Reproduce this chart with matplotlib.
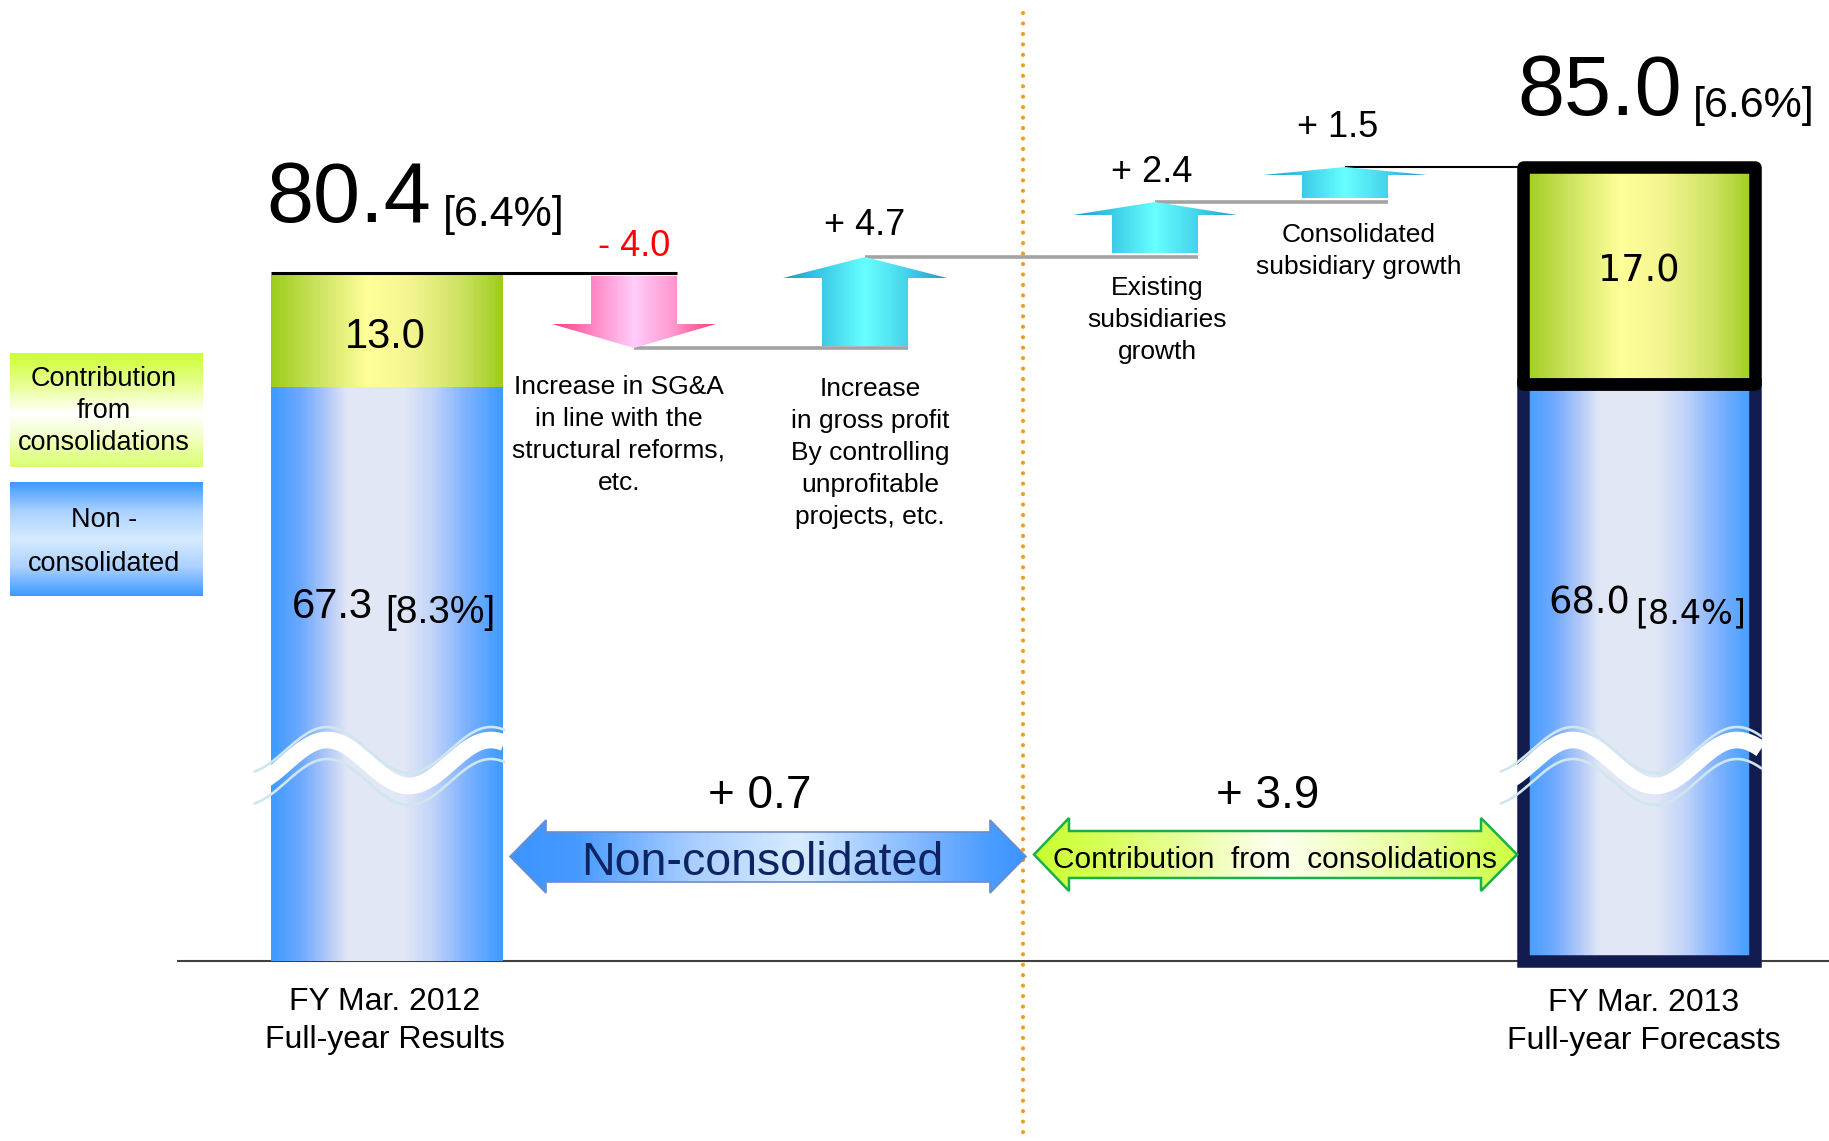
import numpy as np
import matplotlib
matplotlib.use("Agg")
import matplotlib.pyplot as plt
from matplotlib.colors import LinearSegmentedColormap
from matplotlib.patches import Polygon, Rectangle

# Operating income bridge (billions of yen)
periods = ["FY Mar. 2012\nFull-year Results", "FY Mar. 2013\nFull-year Forecasts"]
non_consolidated = [67.3, 68.0]
consolidation_contrib = [13.0, 17.0]
operating_income = [80.4, 85.0]
income_margin = ["6.4%", "6.6%"]
non_consolidated_margin = ["8.3%", "8.4%"]

step_changes = [-4.0, 4.7, 2.4, 1.5]
step_notes = [
    "Increase in SG&A\nin line with the\nstructural reforms,\netc.",
    "Increase\nin gross profit\nBy controlling\nunprofitable\nprojects, etc.",
    "Existing\nsubsidiaries\ngrowth",
    "Consolidated\nsubsidiary growth",
]
segment_names = ["Non-consolidated", "Contribution  from  consolidations"]
segment_changes = [0.7, 3.9]
legend_names = ["Contribution\nfrom\nconsolidations", "Non -\nconsolidated"]

W, H = 1829, 1141
FONT = "Liberation Sans"
WIDE_FONT = "DejaVu Sans"

# broken value axis: 0-67 is squeezed so the small steps near the top stay readable
VAL_KNOTS = [-40, 0, 67, 76, 80.4, 90, 100]
PX_KNOTS = [1303, 961, 388, 356, 273, 52, -178]  # pixels from the top edge
UP_KNOTS = [H - p for p in PX_KNOTS]


def forward(v):
    return np.interp(np.asarray(v, dtype=float), VAL_KNOTS, UP_KNOTS)


def inverse(u):
    return np.interp(np.asarray(u, dtype=float), UP_KNOTS, VAL_KNOTS)


BAR_X = [387, 1639]
BAR_W = 232
STEP_X = [634, 865, 1155, 1345]
SHAFT_W, HEAD_W = 86, 164
HEAD_FRAC = [0.33, 0.21, 0.24, 0.23]
STEP_LABEL_POS = [(634, 256), (865, 235), (1152, 182), (1338, 137)]
NOTE_POS = [(619, 435), (870, 453), (1157, 320), (1359, 251)]


def fy(s):
    return 1 - np.asarray(s, dtype=float) / H


def cmap(name, stops):
    return LinearSegmentedColormap.from_list(name, stops)


blue_cm = cmap("bar_blue", [(0, "#3d9bff"), (0.13, "#6ea9ff"), (0.25, "#b6cbf7"),
                            (0.33, "#e2e7f5"), (0.57, "#e2e7f5"), (0.70, "#c0d3f8"),
                            (0.84, "#80b2ff"), (1, "#3d9bff")])
green_cm = cmap("bar_green", [(0, "#9dcc1d"), (0.2, "#cce35f"), (0.42, "#ffff99"),
                              (0.6, "#f4f590"), (0.82, "#cde262"), (1, "#9dcc1d")])
pink_cm = cmap("down", [(0, "#ff3a7a"), (0.26, "#ff8ac6"), (0.5, "#ffccfa"),
                        (0.74, "#ff98cf"), (1, "#ff3a7a")])
cyan_cm = cmap("up", [(0, "#1b98cc"), (0.24, "#3ccbe6"), (0.5, "#66ffff"),
                      (0.76, "#44d2ea"), (1, "#1b98cc")])
nc_arrow_cm = cmap("nc_arrow", [(0, "#3d94ff"), (0.12, "#4598ff"), (0.35, "#a8cdff"),
                                (0.56, "#d8ebff"), (0.8, "#80b6ff"), (0.93, "#4a9cff"),
                                (1, "#3d94ff")])
cc_arrow_cm = cmap("cc_arrow", [(0, "#c8ff2e"), (0.15, "#d8ff5a"), (0.5, "#fdfff0"),
                                (0.8, "#e6ff99"), (1, "#ccff40")])
legend_cms = [
    cmap("leg_cc", [(0, "#ccff33"), (0.3, "#e8ff99"), (0.53, "#ffffff"),
                    (0.75, "#f0ffc0"), (1, "#d8ff70")]),
    cmap("leg_nc", [(0, "#3d99ff"), (0.25, "#a9d0ff"), (0.5, "#d6eaff"),
                    (0.75, "#a9d0ff"), (1, "#3d99ff")]),
]

fig = plt.figure(figsize=(W / 100, H / 100), dpi=100)
ax = fig.add_axes([0, 0, 1, 1])
ax.set_xlim(0, W)
ax.set_yscale("function", functions=(forward, inverse))
ax.set_ylim(inverse(0), inverse(H))
ax.axis("off")
trans = ax.get_xaxis_transform()


def gradient(clip, x0, x1, y0, y1, cm, vertical=False, transform=None, z=2):
    n = 200
    t = np.linspace(0, 1, n)
    if vertical:
        xs, ys, c = [x0, x1], np.linspace(y0, y1, n + 1), t[:, None]
    else:
        xs, ys, c = np.linspace(x0, x1, n + 1), [y0, y1], t[None, :]
    mesh = ax.pcolormesh(xs, ys, c, cmap=cm, shading="flat", edgecolors="none",
                         antialiased=False, zorder=z,
                         transform=transform if transform is not None else ax.transData)
    mesh.set_clip_path(clip)
    return mesh


def txt(x, s, string, size, family=FONT, **kw):
    kw.setdefault("ha", "center")
    kw.setdefault("va", "baseline")
    return ax.text(x, fy(s), string, transform=trans, fontsize=size, family=family, **kw)


# baseline and the dotted divider between the two halves
ax.hlines(0, 177, W, color="#404040", lw=1.5, zorder=1)
ax.plot([1023, 1023], [fy(13), 0], transform=trans, color="#f79a1d", lw=3,
        linestyle=(0, (0.01, 2.5)), dash_capstyle="round", zorder=1)

# stacked bars
bars_nc = ax.bar(BAR_X, non_consolidated, width=BAR_W, facecolor="none",
                 edgecolor="none", zorder=3)
bars_cc = ax.bar(BAR_X, consolidation_contrib, bottom=non_consolidated, width=BAR_W,
                 facecolor="none", edgecolor="none", zorder=3.1)
for bars, cm in ((bars_nc, blue_cm), (bars_cc, green_cm)):
    for rect in bars:
        x0, y0 = rect.get_x(), rect.get_y()
        gradient(rect, x0, x0 + rect.get_width(), y0, y0 + rect.get_height(), cm)

bars_nc[1].set_edgecolor("#121b4e")
bars_nc[1].set_linewidth(9)
bars_cc[1].set_edgecolor("black")
bars_cc[1].set_linewidth(9)
bars_cc[1].set_joinstyle("round")


# wavy break marks across the bars
def break_mark(left, right):
    xs = np.linspace(left - 16, right, 200)
    s = 750 - 23 * np.cos(2 * np.pi * (xs - (left + 56)) / 164)
    ax.plot(xs, fy(s + 13), transform=trans, color="white", lw=12,
            solid_capstyle="butt", zorder=6)
    ax.plot(xs, fy(s), transform=trans, color="#cfe6ee", lw=1.9, zorder=6.1)
    ax.plot(xs, fy(s + 32), transform=trans, color="#cfe6ee", lw=1.9, zorder=6.1)


break_mark(BAR_X[0] - BAR_W / 2, BAR_X[0] + BAR_W / 2 + 1)
break_mark(BAR_X[1] - BAR_W / 2 - 6, BAR_X[1] + BAR_W / 2 + 6)

# waterfall steps
levels = [operating_income[0]]
for d in step_changes:
    levels.append(round(levels[-1] + d, 1))

ax.hlines(levels[0], BAR_X[0] - BAR_W / 2, STEP_X[0] + SHAFT_W / 2, color="black",
          lw=2.2, zorder=4)
for i in range(1, len(step_changes)):
    ax.hlines(levels[i], STEP_X[i - 1], STEP_X[i] + SHAFT_W / 2, color="#a3a3a3",
              lw=2.6, zorder=1.5)
ax.hlines(levels[-1], STEP_X[-1], BAR_X[1] - BAR_W / 2, color="black", lw=1.5, zorder=1.5)

for i, d in enumerate(step_changes):
    start, end = levels[i], levels[i + 1]
    sign = np.sign(d)
    y0 = start + 0.15 * sign
    yh = end - sign * HEAD_FRAC[i] * abs(d)
    cx = STEP_X[i]
    pts = [(cx - SHAFT_W / 2, y0), (cx + SHAFT_W / 2, y0), (cx + SHAFT_W / 2, yh),
           (cx + HEAD_W / 2, yh), (cx, end), (cx - HEAD_W / 2, yh), (cx - SHAFT_W / 2, yh)]
    arrow = Polygon(pts, closed=True, facecolor="none", edgecolor="none", zorder=3)
    ax.add_patch(arrow)
    gradient(arrow, cx - HEAD_W / 2, cx + HEAD_W / 2, min(y0, end), max(y0, end),
             pink_cm if d < 0 else cyan_cm, z=2.5)
    label = f"- {abs(d):.1f}" if d < 0 else f"+ {d:.1f}"
    lx, ls = STEP_LABEL_POS[i]
    txt(lx, ls, label, 26, color="red" if d < 0 else "black")
    nx, ns = NOTE_POS[i]
    txt(nx, ns, step_notes[i], 19, va="center", linespacing=1.42)

# totals above the bars
txt(266, 222, f"{operating_income[0]:.1f}", 61, ha="left")
txt(443, 226, f"[{income_margin[0]}]", 31, ha="left")
txt(1517, 115, f"{operating_income[1]:.1f}", 61, ha="left")
txt(1693, 117, f"[{income_margin[1]}]", 31, ha="left")

# segment values inside the bars
txt(385, 348, f"{consolidation_contrib[0]:.1f}", 30)
txt(292, 618, f"{non_consolidated[0]:.1f}", 30, ha="left")
txt(385, 623, f"[{non_consolidated_margin[0]}]", 28, ha="left")
txt(1639, 282, f"{consolidation_contrib[1]:.1f}", 26.5, family=WIDE_FONT)
txt(1548, 614, f"{non_consolidated[1]:.1f}", 26.5, family=WIDE_FONT, ha="left")
txt(1635, 623, f"[{non_consolidated_margin[1]}]", 24, family=WIDE_FONT, ha="left")

# double-headed segment arrows
seg_shapes = [
    dict(tips=(510, 1026), bases=(546, 990), head=(820, 893), body=(832, 882),
         cm=nc_arrow_cm, edge="#6d8ccc", lw=1.2, label_x=760, text_x=762, text_s=875,
         size=33.5, color="#0c2461"),
    dict(tips=(1034, 1517), bases=(1069, 1481), head=(818, 891), body=(831, 878),
         cm=cc_arrow_cm, edge="#19b04b", lw=1.8, label_x=1268, text_x=1275, text_s=868,
         size=21.5, color="black"),
]
for name, change, sh in zip(segment_names, segment_changes, seg_shapes):
    (tl, tr), (bl, br) = sh["tips"], sh["bases"]
    (ht, hb), (bt, bb) = sh["head"], sh["body"]
    mid = (ht + hb) / 2
    pts = [(tl, mid), (bl, ht), (bl, bt), (br, bt), (br, ht), (tr, mid),
           (br, hb), (br, bb), (bl, bb), (bl, hb)]
    pts = [(x, fy(s)) for x, s in pts]
    shape = Polygon(pts, closed=True, transform=trans, facecolor="none",
                    edgecolor=sh["edge"], lw=sh["lw"], zorder=4)
    ax.add_patch(shape)
    gradient(shape, tl, tr, fy(ht), fy(hb), sh["cm"], transform=trans, z=3.5)
    txt(sh["text_x"], sh["text_s"], name, sh["size"], color=sh["color"], zorder=5)
    txt(sh["label_x"], 808, f"+ {change:.1f}", 33)

# legend boxes
for (top, bottom), name, cm, ls, cs in zip([(353, 467), (482, 596)], legend_names,
                                           legend_cms, [1.28, 1.9], [411, 542]):
    box = Rectangle((10, fy(bottom)), 193, (bottom - top) / H, transform=trans,
                    facecolor="none", edgecolor="none", zorder=3)
    ax.add_patch(box)
    gradient(box, 10, 203, fy(top), fy(bottom), cm, vertical=True, transform=trans)
    txt(104, cs, name, 19.5, va="center", linespacing=ls, zorder=4)

# period labels under the bars
txt(385, 1021, periods[0], 23, va="center", linespacing=1.39)
txt(1644, 1022, periods[1], 23, va="center", linespacing=1.39)

fig.savefig("out.png", dpi=100, facecolor="white")
